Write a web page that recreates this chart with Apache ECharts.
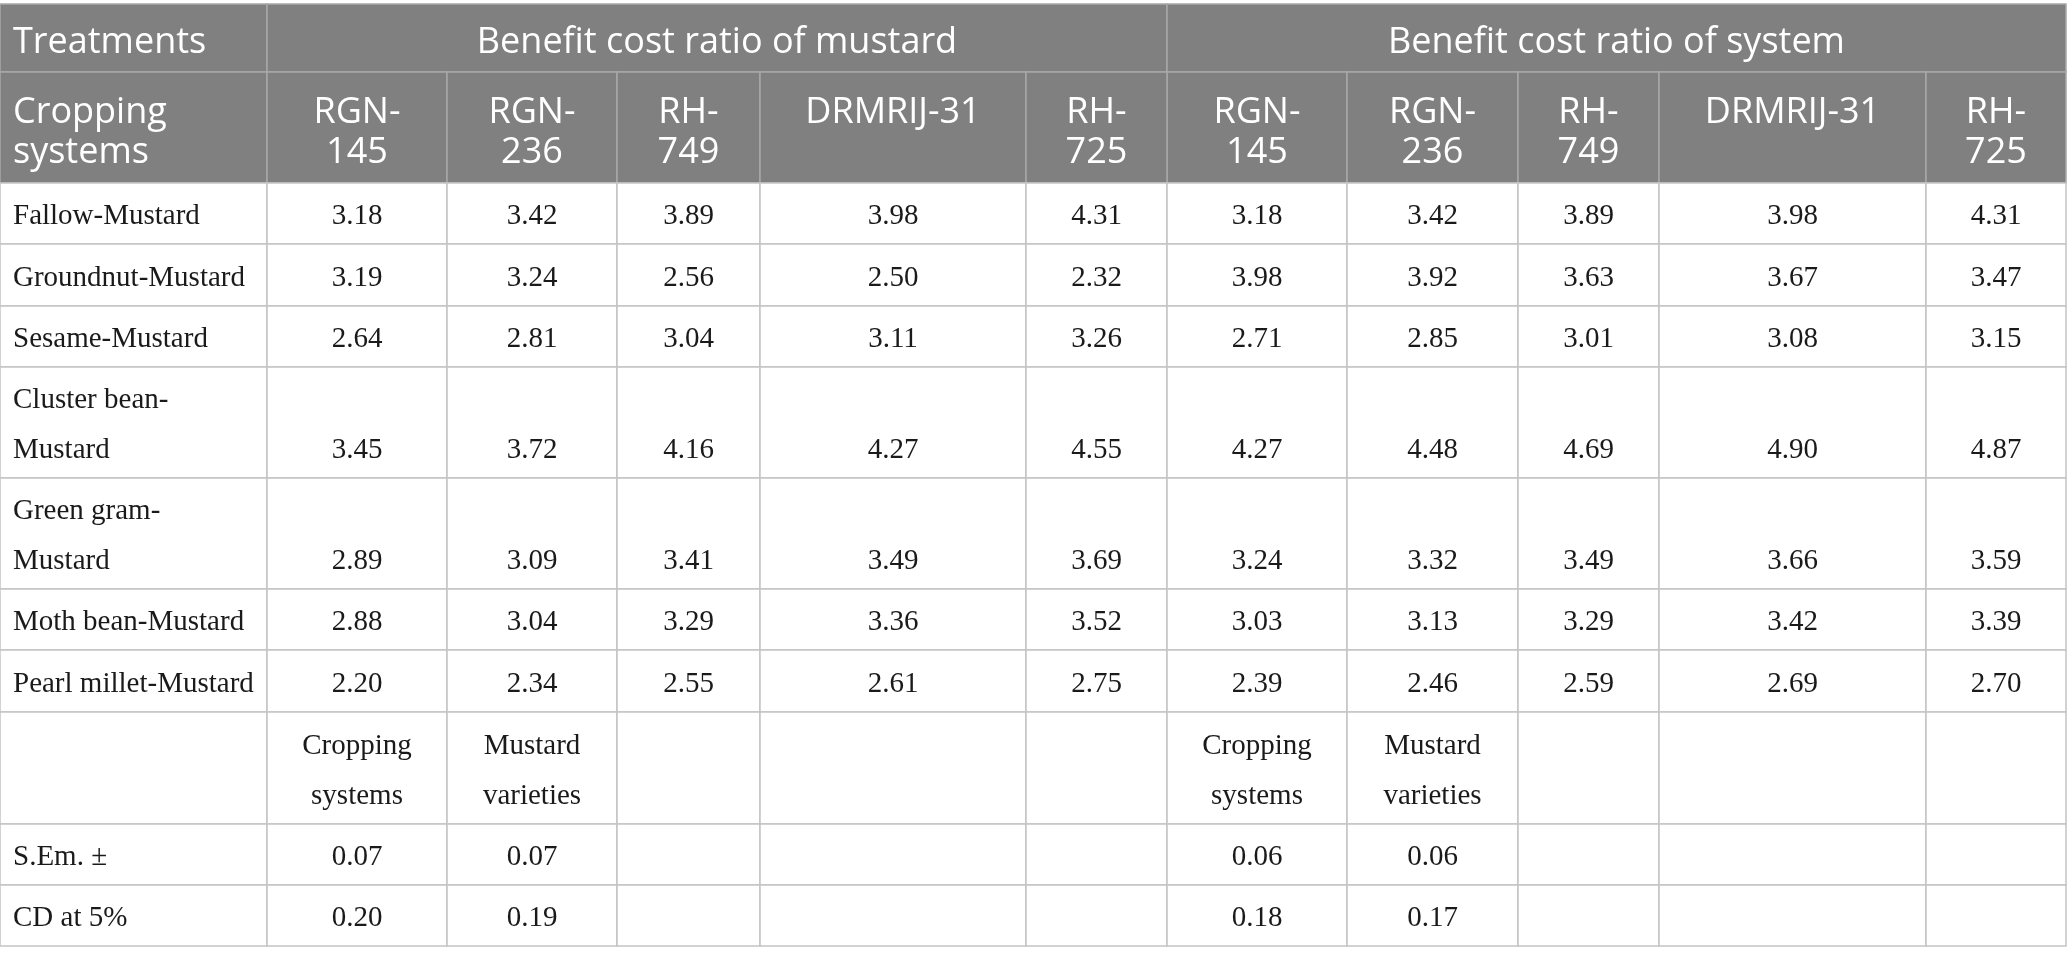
<!DOCTYPE html>
<html>
<head>
<meta charset="utf-8">
<script src="https://cdn.jsdelivr.net/npm/echarts@6/dist/echarts.min.js"></script>
<style>
  html, body { margin: 0; padding: 0; background: #fff; }
  #main { width: 2068px; height: 965px; }
</style>
</head>
<body>
<div id="main"></div>
<script>
// table content
const groups = ['Benefit cost ratio of mustard', 'Benefit cost ratio of system'];
const varieties = ['RGN-\n145', 'RGN-\n236', 'RH-\n749', 'DRMRIJ-31', 'RH-\n725'];
const systems = [
    'Fallow-Mustard',
    'Groundnut-Mustard',
    'Sesame-Mustard',
    'Cluster bean-\nMustard',
    'Green gram-\nMustard',
    'Moth bean-Mustard',
    'Pearl millet-Mustard'
];
const bcrMustard = [
    [3.18, 3.42, 3.89, 3.98, 4.31],
    [3.19, 3.24, 2.56, 2.50, 2.32],
    [2.64, 2.81, 3.04, 3.11, 3.26],
    [3.45, 3.72, 4.16, 4.27, 4.55],
    [2.89, 3.09, 3.41, 3.49, 3.69],
    [2.88, 3.04, 3.29, 3.36, 3.52],
    [2.20, 2.34, 2.55, 2.61, 2.75]
];
const bcrSystem = [
    [3.18, 3.42, 3.89, 3.98, 4.31],
    [3.98, 3.92, 3.63, 3.67, 3.47],
    [2.71, 2.85, 3.01, 3.08, 3.15],
    [4.27, 4.48, 4.69, 4.90, 4.87],
    [3.24, 3.32, 3.49, 3.66, 3.59],
    [3.03, 3.13, 3.29, 3.42, 3.39],
    [2.39, 2.46, 2.59, 2.69, 2.70]
];
const statFactors = ['Cropping\nsystems', 'Mustard\nvarieties'];
const statLabels = ['S.Em. \u00b1', 'CD at 5%'];
const semMustard = [0.07, 0.07];
const cdMustard = [0.20, 0.19];
const semSystem = [0.06, 0.06];
const cdSystem = [0.18, 0.17];

// layout (axis units)
const colW = [267, 180, 170, 143, 266, 141, 180, 171, 141, 267, 140];
const rowH = [68, 111, 61, 62, 61, 111, 111, 61, 62, 112, 61, 61];
const TOP = 4;

const colEdge = [0];
colW.forEach(w => colEdge.push(colEdge[colEdge.length - 1] + w));
const rowEdge = [TOP];
rowH.forEach(h => rowEdge.push(rowEdge[rowEdge.length - 1] + h));

const fmt = v => v.toFixed(2);

// cells: [col0, col1, row, text, head, align]
const cells = [];
const add = (c0, c1, r, text, head, align) => cells.push({ c0, c1, r, text, head, align: align || 'center' });

add(0, 1, 0, 'Treatments', true, 'left');
add(1, 6, 0, groups[0], true);
add(6, 11, 0, groups[1], true);
add(0, 1, 1, 'Cropping\nsystems', true, 'left');
varieties.forEach((v, i) => {
    add(1 + i, 2 + i, 1, v, true);
    add(6 + i, 7 + i, 1, v, true);
});
systems.forEach((s, i) => {
    const r = 2 + i;
    add(0, 1, r, s, false, 'left');
    bcrMustard[i].forEach((v, j) => add(1 + j, 2 + j, r, fmt(v), false));
    bcrSystem[i].forEach((v, j) => add(6 + j, 7 + j, r, fmt(v), false));
});
const statRow = 2 + systems.length;
add(0, 1, statRow, '', false);
for (let k = 0; k < 2; k++) {
    const off = k * 5;
    add(1 + off, 2 + off, statRow, statFactors[0], false);
    add(2 + off, 3 + off, statRow, statFactors[1], false);
    add(3 + off, 4 + off, statRow, '', false);
    add(4 + off, 5 + off, statRow, '', false);
    add(5 + off, 6 + off, statRow, '', false);
}
const statVals = [[semMustard, semSystem], [cdMustard, cdSystem]];
statLabels.forEach((lab, i) => {
    const r = statRow + 1 + i;
    add(0, 1, r, lab, false, 'left');
    for (let k = 0; k < 2; k++) {
        const off = k * 5;
        add(1 + off, 2 + off, r, fmt(statVals[i][k][0]), false);
        add(2 + off, 3 + off, r, fmt(statVals[i][k][1]), false);
        add(3 + off, 4 + off, r, '', false);
        add(4 + off, 5 + off, r, '', false);
        add(5 + off, 6 + off, r, '', false);
    }
});

// lines per row
const rowLines = rowH.map(() => 1);
cells.forEach(c => {
    rowLines[c.r] = Math.max(rowLines[c.r], c.text.split('\n').length);
});

const HEAD_FONT = '"Open Sans", "Noto Sans", sans-serif';
const BODY_FONT = '"Liberation Serif", "DejaVu Serif", serif';

function renderCell(params, api) {
    const c = cells[api.value(4)];
    const p0 = api.coord([api.value(0), api.value(2)]);
    const p1 = api.coord([api.value(1), api.value(3)]);
    const x = p0[0], y = p0[1], w = p1[0] - p0[0], h = p1[1] - p0[1];
    const children = [{
        type: 'rect',
        shape: { x: x, y: y, width: w, height: h },
        style: {
            fill: c.head ? '#808080' : '#ffffff',
            stroke: c.head ? '#a8a8a8' : '#c4c4c4',
            lineWidth: 1.5
        }
    }];
    const lines = c.text ? c.text.split('\n') : [];
    const n = rowLines[c.r];
    const lineH = c.head ? 40 : 50;
    const start = c.head ? 0 : n - lines.length; // head: top, body: bottom
    const cy = y + h / 2 + (c.head ? 5 : 3);
    lines.forEach((ln, i) => {
        const li = start + i;
        children.push({
            type: 'text',
            style: {
                text: ln,
                x: c.align === 'left' ? x + (c.head ? 13 : 13) : x + w / 2,
                y: cy + (li - (n - 1) / 2) * lineH,
                align: c.align,
                verticalAlign: 'middle',
                fill: c.head ? '#ffffff' : '#1a1a1a',
                font: c.head ? '36px ' + HEAD_FONT : '29px ' + BODY_FONT
            }
        });
    });
    return { type: 'group', children: children };
}

const chart = echarts.init(document.getElementById('main'));
chart.setOption({
    animation: false,
    grid: { left: 0, right: 0, top: 0, bottom: 0 },
    xAxis: { type: 'value', min: 0, max: 2068, show: false },
    yAxis: { type: 'value', min: 0, max: 965, inverse: true, show: false },
    series: [{
        type: 'custom',
        silent: true,
        renderItem: renderCell,
        encode: { x: [0, 1], y: [2, 3] },
        data: cells.map((c, i) => [colEdge[c.c0], colEdge[c.c1], rowEdge[c.r], rowEdge[c.r + 1], i])
    }]
});
</script>
</body>
</html>
